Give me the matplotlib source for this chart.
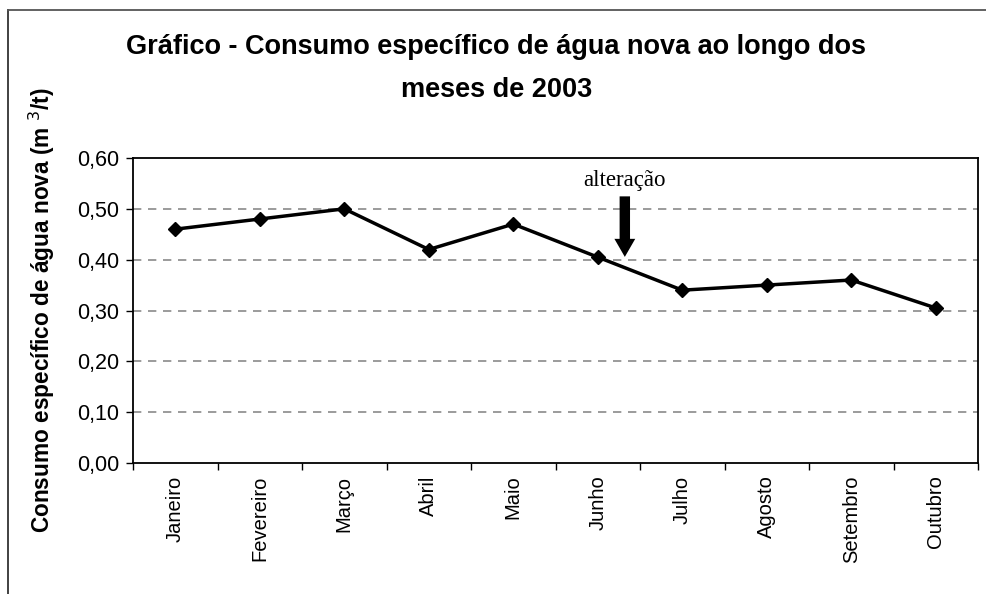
import numpy as np
import matplotlib; matplotlib.use("Agg")
import matplotlib.pyplot as plt
from matplotlib.lines import Line2D

meses = ["Janeiro", "Fevereiro", "Março", "Abril", "Maio", "Junho",
         "Julho", "Agosto", "Setembro", "Outubro"]
consumo = [0.46, 0.48, 0.50, 0.42, 0.47, 0.405, 0.34, 0.35, 0.36, 0.305]
yticks = [0.0, 0.1, 0.2, 0.3, 0.4, 0.5, 0.6]
ytick_labels = ["0,00", "0,10", "0,20", "0,30", "0,40", "0,50", "0,60"]

plt.rcParams["font.family"] = ["Liberation Sans", "DejaVu Sans"]

fig = plt.figure(figsize=(9.87, 5.94), dpi=100)
ax = fig.add_axes([0.1348, 0.2205, 0.8561, 0.5135])

x = np.arange(len(meses))
ax.plot(x, consumo, color="black", lw=2.5, marker="D", ms=7.5, zorder=3)

ax.set_xlim(-0.5, len(meses) - 0.5)
ax.set_ylim(0, 0.6)
ax.set_yticks(yticks)
ax.set_yticklabels(ytick_labels, fontsize=15.5)
ax.set_xticks(x)
ax.set_xticklabels(meses, rotation=90, fontsize=14.5)
ax.set_xticks(np.arange(-0.5, len(meses)), minor=True)
ax.tick_params(axis="x", which="major", length=0, pad=9)
ax.tick_params(axis="x", which="minor", length=5, width=1, direction="out")
ax.tick_params(axis="y", length=5, width=1, direction="out", pad=5)

for g in yticks[1:-1]:
    ax.axhline(g, color="#8a8a8a", ls=(0, (5, 4)), lw=1.2, zorder=1)

for s in ax.spines.values():
    s.set_linewidth(1.3)

ax.set_ylabel("Consumo específico de água nova (m $^{3}$/t)", fontsize=16.3,
              fontweight="bold")
ax.yaxis.set_label_coords(-0.09, 0.5)

# marcação da alteração
ax.annotate("", xy=(5.32, 0.40), xytext=(5.32, 0.53),
            arrowprops=dict(arrowstyle="simple,head_width=1.5,head_length=1.3,tail_width=0.75",
                            color="black", lw=0))
ax.text(5.32, 0.556, "alteração", ha="center", va="center", fontsize=16.5,
        family="Liberation Serif")

fig.text(0.503, 0.921, "Gráfico - Consumo específico de água nova ao longo dos",
         ha="center", va="center", fontsize=19.5, fontweight="bold")
fig.text(0.503, 0.849, "meses de 2003", ha="center", va="center",
         fontsize=19.5, fontweight="bold")

# moldura do gráfico
fig.add_artist(Line2D([8 / 987, 8 / 987], [0, 1 - 10 / 594], color="#333333", lw=1.3))
fig.add_artist(Line2D([8 / 987, 1], [1 - 10 / 594, 1 - 10 / 594], color="#555555", lw=1.3))

fig.savefig("out.png", dpi=100)
